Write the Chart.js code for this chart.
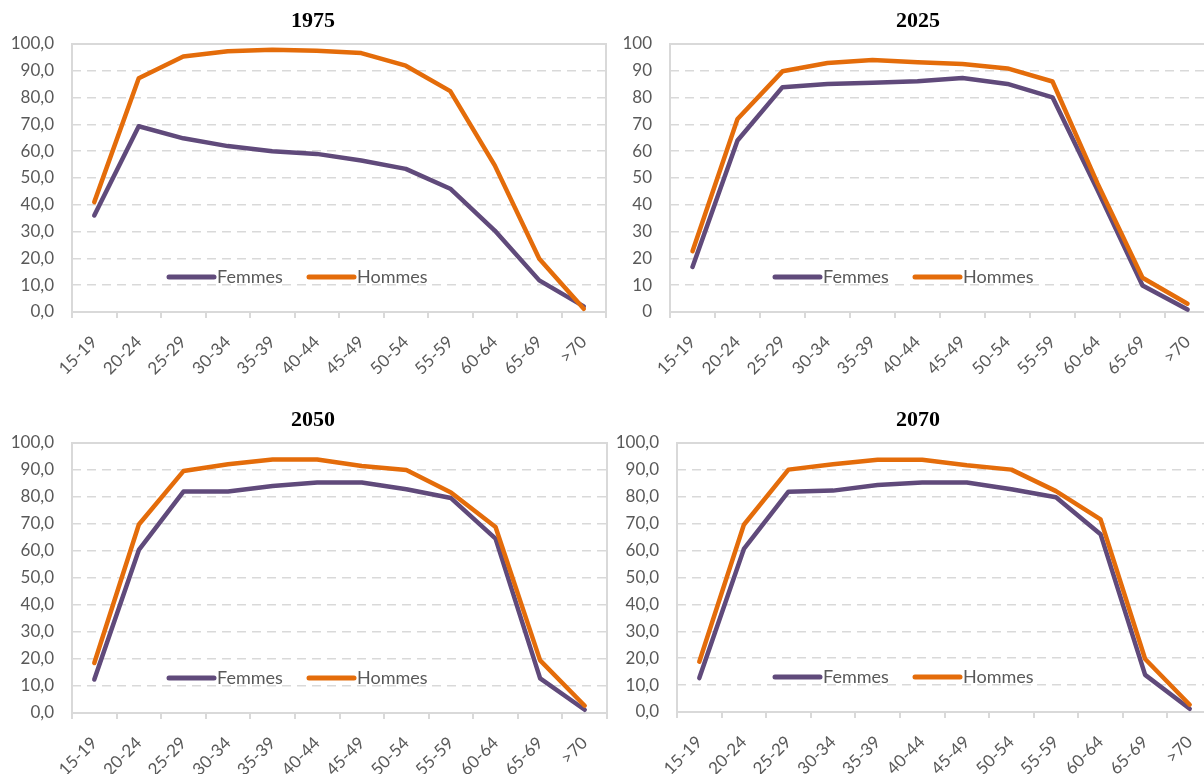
<!DOCTYPE html>
<html>
<head>
<meta charset="utf-8">
<script src="https://cdn.jsdelivr.net/npm/chart.js@4"></script>
<style>
body { margin: 0; background: #fff; width: 1204px; height: 774px; overflow: hidden; position: relative; }
.panel { position: absolute; overflow: hidden; }
</style>
</head>
<body>
<div class="panel" style="left:0;top:0;width:608px;height:390px"><canvas id="c1975" width="620" height="390"></canvas></div>
<div class="panel" style="left:608px;top:0;width:596px;height:390px"><canvas id="c2025" width="620" height="390"></canvas></div>
<div class="panel" style="left:0;top:390px;width:608px;height:384px"><canvas id="c2050" width="620" height="384"></canvas></div>
<div class="panel" style="left:608px;top:390px;width:596px;height:384px"><canvas id="c2070" width="620" height="384"></canvas></div>
<script>
const ageGroups = ['15-19', '20-24', '25-29', '30-34', '35-39', '40-44', '45-49', '50-54', '55-59', '60-64', '65-69', '>70']

const femmes1975 = [36.0, 69.3, 64.8, 61.9, 60.0, 59.0, 56.5, 53.4, 46.0, 30.4, 11.8, 2.1]
const hommes1975 = [41.0, 87.2, 95.3, 97.3, 97.9, 97.5, 96.6, 91.9, 82.4, 54.7, 19.9, 1.2]

const femmes2025 = [16.8, 64.0, 83.9, 85.1, 85.5, 86.1, 87.3, 85.1, 80.1, 45.5, 9.9, 0.9]
const hommes2025 = [22.7, 72.0, 89.8, 92.9, 94.0, 93.2, 92.5, 90.9, 86.0, 48.0, 12.8, 3.1]

const femmes2050 = [12.4, 60.4, 82.0, 82.0, 84.1, 85.4, 85.4, 82.9, 79.6, 64.6, 12.8, 1.2]
const hommes2050 = [18.5, 69.8, 89.6, 92.1, 93.9, 93.9, 91.5, 90.0, 81.7, 68.9, 19.5, 2.7]

const femmes2070 = [12.6, 60.6, 81.9, 82.3, 84.4, 85.3, 85.3, 82.8, 79.8, 66.1, 13.8, 1.2]
const hommes2070 = [18.7, 69.6, 90.1, 92.1, 93.8, 93.8, 91.7, 90.1, 82.1, 71.6, 19.7, 2.7]

const PURPLE = '#604a7b'
const ORANGE = '#e46c0a'
const GRID = '#d9d9d9'
const TEXT = '#595959'

// plot frame drawn before the lines so they sit on top of the axis
const plotFrame = {
    id: 'plotFrame',
    beforeDatasetsDraw(chart) {
        const { ctx, chartArea: a } = chart
        ctx.save()
        ctx.strokeStyle = GRID
        ctx.lineWidth = 2
        ctx.strokeRect(a.left, a.top, a.right - a.left, a.bottom - a.top)
        ctx.restore()
    }
}

// Excel-like legend sitting inside the plot area
const insideLegend = {
    id: 'insideLegend',
    afterDatasetsDraw(chart, args, opts) {
        const ctx = chart.ctx
        const y = chart.chartArea.bottom - opts.dy
        let x = opts.x
        ctx.save()
        ctx.font = '18px Lato'
        ctx.textBaseline = 'middle'
        chart.data.datasets.forEach(ds => {
            ctx.strokeStyle = ds.borderColor
            ctx.lineWidth = 5
            ctx.lineCap = 'round'
            ctx.beginPath()
            ctx.moveTo(x + 2, y)
            ctx.lineTo(x + 47, y)
            ctx.stroke()
            ctx.fillStyle = TEXT
            ctx.fillText(ds.label, x + 50, y)
            x += 140
        })
        ctx.restore()
    }
}

// chart title, placed on its own so it is not tied to the plot width
const panelTitle = {
    id: 'panelTitle',
    afterDraw(chart, args, opts) {
        const ctx = chart.ctx
        ctx.save()
        ctx.font = 'bold 22px "Liberation Serif"'
        ctx.fillStyle = '#000'
        ctx.textAlign = 'center'
        ctx.textBaseline = 'alphabetic'
        ctx.fillText(opts.text, opts.x, opts.y)
        ctx.restore()
    }
}

const makeChart = (id, title, femmes, hommes, o) => {
    const canvas = document.getElementById(id)
    const data = {
        labels: ageGroups,
        datasets: [{
            label: 'Femmes',
            data: femmes,
            borderColor: PURPLE,
            backgroundColor: PURPLE,
            borderWidth: 4.5,
            pointRadius: 0,
            tension: 0,
            borderJoinStyle: 'round',
            borderCapStyle: 'round',
            order: 1
        },
        {
            label: 'Hommes',
            data: hommes,
            borderColor: ORANGE,
            backgroundColor: ORANGE,
            borderWidth: 4.5,
            pointRadius: 0,
            tension: 0,
            borderJoinStyle: 'round',
            borderCapStyle: 'round',
            order: 0
        }]
    }
    const config = {
        type: 'line',
        data: data,
        options: {
            responsive: false,
            animation: false,
            events: [],
            layout: { padding: { left: 0, right: canvas.width - o.right, top: o.top, bottom: 0 } },
            plugins: {
                legend: { display: false },
                tooltip: { enabled: false },
                title: { display: false },
                panelTitle: { text: title, x: o.titleX, y: o.titleY },
                insideLegend: { x: o.legendX, dy: 35 }
            },
            scales: {
                x: {
                    offset: true,
                    grid: { offset: true, drawOnChartArea: false, drawTicks: true, tickLength: 6, color: GRID, lineWidth: 2 },
                    border: { color: GRID, width: 2 },
                    ticks: { color: TEXT, font: { family: 'Lato', size: 17 }, minRotation: 45, maxRotation: 45, padding: 14, autoSkip: false },
                    afterFit: (scale) => { scale.height = canvas.height - o.bottom }
                },
                y: {
                    min: 0,
                    max: 100,
                    grid: { color: GRID, lineWidth: 1.5, drawTicks: false },
                    border: { display: false, dash: [9, 6] },
                    ticks: {
                        stepSize: 10,
                        padding: 18,
                        color: TEXT,
                        font: { family: 'Lato', size: 17 },
                        callback: (v) => o.decimals ? v.toFixed(1).replace('.', ',') : String(v)
                    },
                    afterFit: (scale) => { scale.width = o.left }
                }
            }
        },
        plugins: [plotFrame, insideLegend, panelTitle]
    }
    return new Chart(canvas, config)
}

makeChart('c1975', '1975', femmes1975, hommes1975, { decimals: true, left: 72, right: 606, top: 44, bottom: 312, titleX: 313, titleY: 27, legendX: 167 })
makeChart('c2025', '2025', femmes2025, hommes2025, { decimals: false, left: 62, right: 602, top: 44, bottom: 312, titleX: 310, titleY: 27, legendX: 165 })
makeChart('c2050', '2050', femmes2050, hommes2050, { decimals: true, left: 72, right: 607, top: 53, bottom: 323, titleX: 313, titleY: 36, legendX: 167 })
makeChart('c2070', '2070', femmes2070, hommes2070, { decimals: true, left: 69, right: 604, top: 53, bottom: 322, titleX: 310, titleY: 36, legendX: 165 })
</script>
</body>
</html>
